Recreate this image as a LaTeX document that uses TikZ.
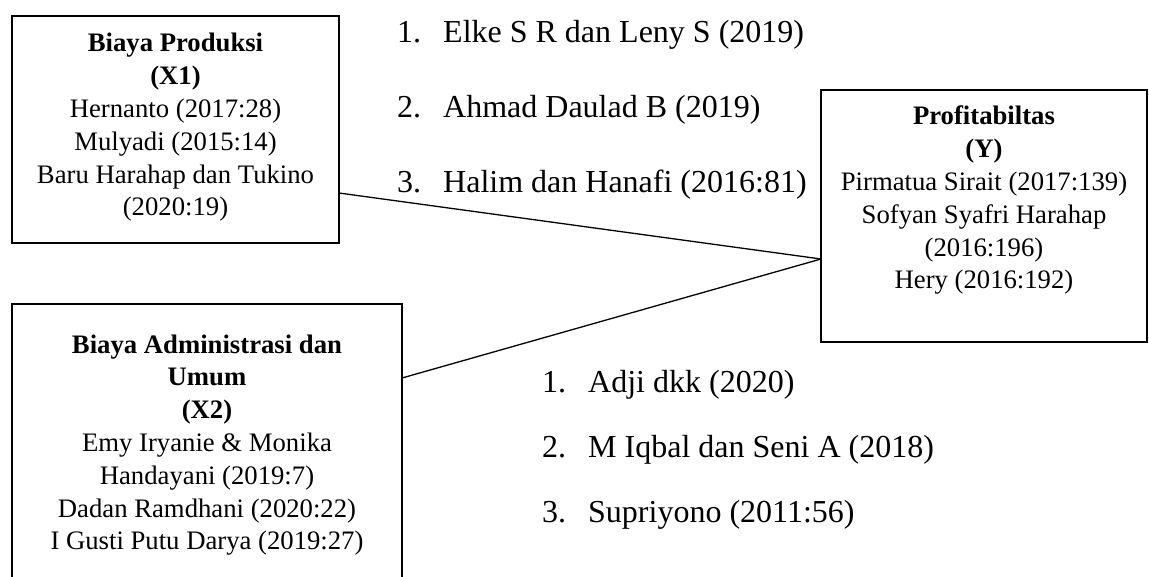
\documentclass[tikz,border=0pt]{standalone}
\usepackage{fontspec}
\setmainfont{Liberation Serif}
\begin{document}
\begin{tikzpicture}[x=1pt,y=-1pt,
  box/.style={draw, line width=2.6pt, inner sep=0pt, outer sep=0pt, anchor=north west},
  boxtext/.style={align=center, inner sep=0pt, anchor=base, font=\fontsize{26.7}{32.8}\selectfont},
  item/.style={inner sep=0pt, anchor=base west, font=\fontsize{32}{38}\selectfont},
  link/.style={line width=1.3pt}]
\clip (0,0) rectangle (1149,577);
% boxes
\node[box, minimum width=327pt, minimum height=227pt] (b1) at (12,16) {};
\node[box, minimum width=326pt, minimum height=252pt] (by) at (821,90) {};
\node[box, minimum width=390pt, minimum height=320pt] (b2) at (12,304) {};
% box texts (base anchor = baseline of the last line)
\node[boxtext] (t1) at (175.5,216) {\textbf{Biaya Produksi}\\\textbf{(X1)}\\Hernanto (2017:28)\\Mulyadi (2015:14)\\Baru Harahap dan Tukino\\(2020:19)};
\node[boxtext] (ty) at (984,289) {\textbf{Profitabiltas}\\\textbf{(Y)}\\Pirmatua Sirait (2017:139)\\Sofyan Syafri Harahap\\(2016:196)\\Hery (2016:192)};
\node[boxtext] (t2) at (207,549.8) {\textbf{Biaya Administrasi dan}\\\textbf{Umum}\\\textbf{(X2)}\\Emy Iryanie \& Monika\\Handayani (2019:7)\\Dadan Ramdhani (2020:22)\\I Gusti Putu Darya (2019:27)};
% top list
\node[item] (n1) at (397,43) {1.};
\node[item] (l1) at (443,43) {Elke S R dan Leny S (2019)};
\node[item] (n2) at (397,118) {2.};
\node[item] (l2) at (443,118) {Ahmad Daulad B (2019)};
\node[item] (n3) at (397,193) {3.};
\node[item] (l3) at (443,193) {Halim dan Hanafi (2016:81)};
% bottom list
\node[item] (m1) at (542,392) {1.};
\node[item] (k1) at (588,392) {Adji dkk (2020)};
\node[item] (m2) at (542,457) {2.};
\node[item] (k2) at (588,457) {M Iqbal dan Seni A (2018)};
\node[item] (m3) at (542,522) {3.};
\node[item] (k3) at (588,522) {Supriyono (2011:56)};
% connectors
\draw[link] ([yshift=-63.5pt]b1.east) -- ([yshift=-43pt]by.west);
\draw[link] ([yshift=86pt]b2.east) -- ([yshift=-43pt]by.west);
\end{tikzpicture}
\end{document}
